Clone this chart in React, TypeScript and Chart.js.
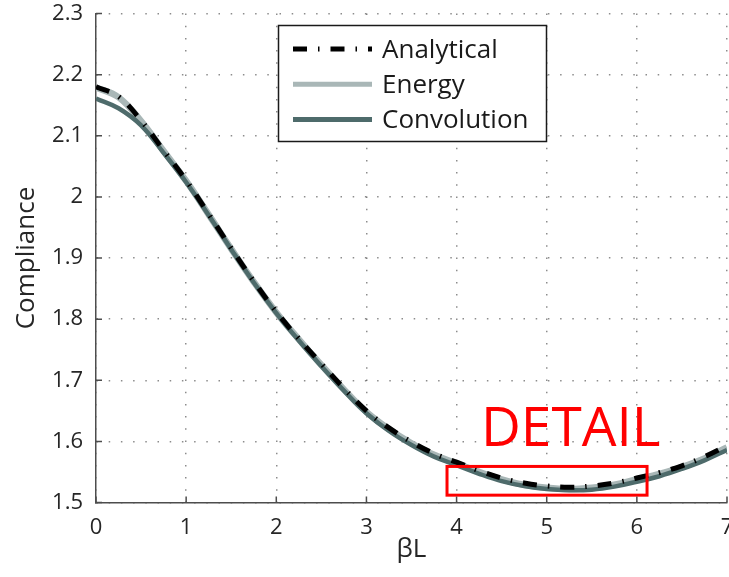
import React, { useEffect, useRef } from "react";
import { Chart, registerables } from "chart.js";

Chart.register(...registerables);

// ---- data ----
const betaL = [0, 0.25, 0.5, 0.75, 1, 1.25, 1.5, 1.75, 2, 2.25, 2.5, 2.75, 3, 3.25, 3.5, 3.75, 4, 4.25, 4.5, 4.75, 5, 5.25, 5.5, 5.75, 6, 6.25, 6.5, 6.75, 7];
const analytical = [2.18, 2.164, 2.125, 2.076, 2.027, 1.972, 1.916, 1.862, 1.812, 1.768, 1.727, 1.687, 1.65, 1.622, 1.599, 1.58, 1.566, 1.552, 1.54, 1.532, 1.527, 1.525, 1.527, 1.532, 1.54, 1.549, 1.56, 1.575, 1.593];
const energy = [2.179, 2.163, 2.124, 2.075, 2.026, 1.971, 1.915, 1.861, 1.811, 1.767, 1.725, 1.685, 1.648, 1.62, 1.597, 1.578, 1.564, 1.55, 1.538, 1.529, 1.524, 1.522, 1.524, 1.529, 1.538, 1.547, 1.558, 1.572, 1.59];
const convolution = [2.161, 2.145, 2.117, 2.072, 2.024, 1.97, 1.914, 1.86, 1.81, 1.765, 1.723, 1.683, 1.646, 1.617, 1.594, 1.575, 1.561, 1.547, 1.535, 1.527, 1.522, 1.52, 1.521, 1.526, 1.534, 1.543, 1.555, 1.569, 1.586];
const seriesNames = ["Analytical", "Energy", "Convolution"];
const xTitle = "βL";
const yTitle = "Compliance";
const xRange = [0, 7];
const yRange = [1.5, 2.3];
const detailLabel = "DETAIL";
const detailTextAt = { x: 4.27, y: 1.592 };
const detailBox = { x0: 3.894, x1: 6.113, y0: 1.512, y1: 1.559 };

const FONT = '"Open Sans", "DejaVu Sans", sans-serif';

const decorPlugin = {
  id: "decor",
  afterDatasetsDraw(chart: any) {
    const { ctx, scales } = chart;
    const x = scales.x;
    const y = scales.y;
    ctx.save();
    // DETAIL annotation
    ctx.strokeStyle = "#ff0000";
    ctx.lineWidth = 3;
    const bx0 = x.getPixelForValue(detailBox.x0);
    const bx1 = x.getPixelForValue(detailBox.x1);
    const by0 = y.getPixelForValue(detailBox.y1);
    const by1 = y.getPixelForValue(detailBox.y0);
    ctx.strokeRect(bx0, by0, bx1 - bx0, by1 - by0);
    ctx.fillStyle = "#ff0000";
    ctx.font = `55px ${FONT}`;
    ctx.textAlign = "left";
    ctx.textBaseline = "alphabetic";
    ctx.fillText(detailLabel, x.getPixelForValue(detailTextAt.x), y.getPixelForValue(detailTextAt.y));
    ctx.restore();
  },
  afterDraw(chart: any) {
    const { ctx, chartArea, scales } = chart;
    const x = scales.x;
    const y = scales.y;
    ctx.save();
    // inward ticks
    ctx.strokeStyle = "#4d4d4d";
    ctx.lineWidth = 1.5;
    ctx.beginPath();
    x.ticks.forEach((t: any) => {
      const px = x.getPixelForValue(t.value);
      ctx.moveTo(px, chartArea.bottom);
      ctx.lineTo(px, chartArea.bottom - 6);
    });
    y.ticks.forEach((t: any) => {
      const py = y.getPixelForValue(t.value);
      ctx.moveTo(chartArea.left, py);
      ctx.lineTo(chartArea.left + 6, py);
    });
    ctx.stroke();

    // legend box
    const lx = 278.5, ly = 25.5, lw = 268, lh = 116;
    ctx.fillStyle = "#ffffff";
    ctx.fillRect(lx, ly, lw, lh);
    ctx.strokeStyle = "#1a1a1a";
    ctx.lineWidth = 1.5;
    ctx.strokeRect(lx, ly, lw, lh);
    const dsets = chart.data.datasets;
    [0, 1, 2].forEach((i, r) => {
      const ds = dsets[i];
      const yy = 49 + r * 35.3;
      ctx.save();
      ctx.strokeStyle = ds.borderColor;
      ctx.lineWidth = 5;
      ctx.setLineDash(ds.borderDash || []);
      ctx.beginPath();
      ctx.moveTo(293, yy);
      ctx.lineTo(372, yy);
      ctx.stroke();
      ctx.restore();
      ctx.fillStyle = "#1a1a1a";
      ctx.font = `26px ${FONT}`;
      ctx.textAlign = "left";
      ctx.textBaseline = "alphabetic";
      ctx.fillText(ds.label, 382, yy + 8.5);
    });
    ctx.restore();
  },
};

export default function App() {
  const ref = useRef<HTMLCanvasElement>(null);
  useEffect(() => {
    if (!ref.current) return;
    const toPts = (arr: number[]) => betaL.map((v, i) => ({ x: v, y: arr[i] }));
    const chart = new Chart(ref.current, {
      type: "line",
      data: {
        datasets: [
          {
            label: seriesNames[0],
            data: toPts(analytical),
            borderColor: "#000000",
            borderWidth: 5,
            borderDash: [14, 11, 1.5, 11],
            pointRadius: 0,
            tension: 0.4,
            order: 0,
          },
          {
            label: seriesNames[1],
            data: toPts(energy),
            borderColor: "#a9b7b7",
            borderWidth: 6.5,
            pointRadius: 0,
            tension: 0.4,
            order: 2,
          },
          {
            label: seriesNames[2],
            data: toPts(convolution),
            borderColor: "#4e6b6b",
            borderWidth: 4.5,
            pointRadius: 0,
            tension: 0.4,
            order: 1,
          },
        ],
      },
      options: {
        responsive: false,
        animation: false,
        layout: { padding: { top: 13.5, right: 2, bottom: 0, left: 0 } },
        plugins: { legend: { display: false }, tooltip: { enabled: false } },
        scales: {
          x: {
            type: "linear",
            min: xRange[0],
            max: xRange[1],
            ticks: {
              stepSize: 1,
              padding: 12,
              color: "#262626",
              font: { family: FONT, size: 22 },
              maxRotation: 0,
              autoSkip: false,
            },
            grid: { color: "rgba(0,0,0,0.45)", lineWidth: 1.5, drawTicks: false },
            border: { display: true, color: "#4d4d4d", width: 1.5, dash: [1.5, 10.7] },
            title: {
              display: true,
              text: xTitle,
              color: "#262626",
              font: { family: FONT, size: 26 },
              padding: { top: 0, bottom: 12 },
            },
            afterFit: (s: any) => {
              s.height = 74.5;
              s.paddingLeft = 0;
              s.paddingRight = 0;
            },
          },
          y: {
            type: "linear",
            min: yRange[0],
            max: yRange[1],
            ticks: {
              stepSize: 0.1,
              padding: 13,
              color: "#262626",
              font: { family: FONT, size: 22 },
              callback: (v: any) => String(Math.round(Number(v) * 10) / 10),
            },
            grid: { color: "rgba(0,0,0,0.45)", lineWidth: 1.5, drawTicks: false },
            border: { display: true, color: "#4d4d4d", width: 1.5, dash: [1.5, 10.7] },
            title: {
              display: true,
              text: yTitle,
              color: "#262626",
              font: { family: FONT, size: 26 },
              padding: { top: 11, bottom: 0 },
            },
            afterFit: (s: any) => {
              s.width = 96;
              s.paddingTop = 0;
              s.paddingBottom = 0;
            },
          },
        },
      },
      plugins: [decorPlugin],
    } as any);
    return () => chart.destroy();
  }, []);
  return (
    <div style={{ position: "fixed", left: 0, top: 0, width: 729, height: 577, background: "#fff" }}>
      <canvas ref={ref} width={729} height={577} style={{ display: "block" }} />
    </div>
  );
}
